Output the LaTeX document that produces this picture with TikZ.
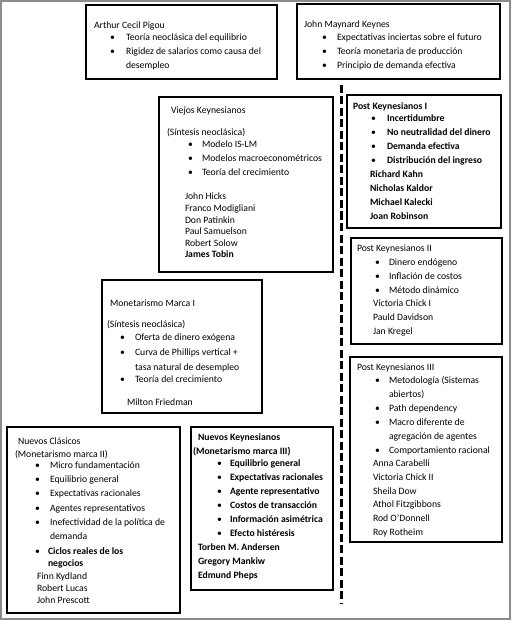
\documentclass[tikz,border=0pt]{standalone}
\usepackage{fontspec}
\setmainfont{Carlito}
\usetikzlibrary{fit}
\newcounter{lnc}
\newcommand\tline[3]{\stepcounter{lnc}\node[txt] (t\thelnc) at (#1,#2+3) {#3};}
\newcommand\bline[4]{\stepcounter{lnc}\node[txt] (d\thelnc) at (#1,#3+3) {\textbullet};\node[txt] (t\thelnc) at (#2,#3+3) {#4};}
\begin{document}
\begin{tikzpicture}[x=1pt,y=-1pt,
  txt/.style={anchor=base west,inner sep=0pt,outer sep=0pt,font=\fontsize{9.7}{11.6}\selectfont},
  box/.style={draw=black,line width=1.7pt,inner sep=0pt,outer sep=0pt},
  frame/.style={draw=black!45,line width=2pt},
  dashline/.style={line width=3pt,dash pattern=on 8pt off 3.5pt}]
\useasboundingbox (0,0) rectangle (511,620);
\fill[white] (0,0) rectangle (511,620);
\draw[frame] (1,1) rectangle (509.5,618.5);
% boxes
\node[box,fit={(86,5) (277,79)}] (pigou) {};
\node[box,fit={(297,4) (500,79)}] (keynes) {};
\node[box,fit={(159,97) (333,272)}] (viejos) {};
\node[box,fit={(347,95) (501,228)}] (pk1) {};
\node[box,fit={(351,238) (502,344)}] (pk2) {};
\node[box,fit={(102,280) (262,413)}] (mon) {};
\node[box,fit={(350,357) (502,542)}] (pk3) {};
\node[box,fit={(7,427) (180,613)}] (nc) {};
\node[box,fit={(191,427) (333,590)}] (nk) {};
% dashed divider
\coordinate (dtop) at (341,85);
\coordinate (dbot) at (341,603);
\draw[dashline] (dtop) -- (dbot);
% Pigou
\tline{94}{26}{Arthur Cecil Pigou}
\bline{110}{126}{38}{Teoría neoclásica del equilibrio}
\bline{110}{126}{52}{Rigidez de salarios como causa del}
\tline{126}{66}{desempleo}
% Keynes
\tline{304}{25}{John Maynard Keynes}
\bline{322}{337}{38}{Expectativas inciertas sobre el futuro}
\bline{322}{337}{52}{Teoría monetaria de producción}
\bline{322}{337}{66}{Principio de demanda efectiva}
% Viejos Keynesianos
\tline{171}{111}{Viejos Keynesianos}
\tline{167}{133}{(Síntesis neoclásica)}
\bline{188}{202}{145}{Modelo IS-LM}
\bline{188}{202}{159}{Modelos macroeconométricos}
\bline{188}{202}{173}{Teoría del crecimiento}
\tline{185}{197}{John Hicks}
\tline{185}{208.5}{Franco Modigliani}
\tline{185}{220}{Don Patinkin}
\tline{185}{231.5}{Paul Samuelson}
\tline{185}{243}{Robert Solow}
\tline{185}{254.5}{\bfseries James Tobin}
% Post Keynesianos I
\tline{353}{107}{\bfseries Post Keynesianos I}
\bline{371}{387}{119}{\bfseries Incertidumbre}
\bline{371}{387}{133}{\bfseries No neutralidad del dinero}
\bline{371}{387}{147}{\bfseries Demanda efectiva}
\bline{371}{387}{161}{\bfseries Distribución del ingreso}
\tline{370}{175}{\bfseries Richard Kahn}
\tline{370}{189}{\bfseries Nicholas Kaldor}
\tline{370}{202}{\bfseries Michael Kalecki}
\tline{370}{216}{\bfseries Joan Robinson}
% Post Keynesianos II
\tline{357}{248}{Post Keynesianos II}
\bline{375}{389}{262}{Dinero endógeno}
\bline{375}{389}{276}{Inflación de costos}
\bline{375}{389}{290}{Método dinámico}
\tline{373}{303}{Victoria Chick I}
\tline{373}{317}{Pauld Davidson}
\tline{373}{331}{Jan Kregel}
% Post Keynesianos III
\tline{357}{367}{Post Keynesianos III}
\bline{375}{389}{380}{Metodología (Sistemas}
\tline{389}{394}{abiertos)}
\bline{375}{389}{408}{Path dependency}
\bline{375}{389}{422}{Macro diferente de}
\tline{389}{436}{agregación de agentes}
\bline{375}{389}{450}{Comportamiento racional}
\tline{373}{463}{Anna Carabelli}
\tline{373}{477}{Victoria Chick II}
\tline{373}{491}{Sheila Dow}
\tline{373}{504}{Athol Fitzgibbons}
\tline{373}{518}{Rod O’Donnell}
\tline{373}{532}{Roy Rotheim}
% Monetarismo Marca I
\tline{110}{303}{Monetarismo Marca I}
\tline{107}{324}{(Síntesis neoclásica)}
\bline{120}{135}{337}{Oferta de dinero exógena}
\bline{120}{135}{352}{Curva de Phillips vertical +}
\tline{135}{367}{tasa natural de desempleo}
\bline{120}{135}{379}{Teoría del crecimiento}
\tline{127}{402}{Milton Friedman}
% Nuevos Clasicos
\tline{18}{441}{Nuevos Clásicos}
\tline{15}{454}{(Monetarismo marca II)}
\bline{35}{50}{465}{Micro fundamentación}
\bline{35}{50}{479}{Equilibrio general}
\bline{35}{50}{493}{Expectativas racionales}
\bline{35}{50}{508}{Agentes representativos}
\bline{35}{50}{522}{Inefectividad de la política de}
\tline{50}{536}{demanda}
\bline{35}{48}{551}{\bfseries Ciclos reales de los}
\tline{48}{563}{\bfseries negocios}
\tline{37}{576}{Finn Kydland}
\tline{37}{588}{Robert Lucas}
\tline{37}{600}{John Prescott}
% Nuevos Keynesianos
\tline{198}{437}{\bfseries Nuevos Keynesianos}
\tline{193}{451}{\bfseries (Monetarismo marca III)}
\bline{217}{230}{463}{\bfseries Equilibrio general}
\bline{217}{230}{477}{\bfseries Expectativas racionales}
\bline{217}{230}{491}{\bfseries Agente representativo}
\bline{217}{230}{505}{\bfseries Costos de transacción}
\bline{217}{230}{519}{\bfseries Información asimétrica}
\bline{217}{230}{533}{\bfseries Efecto histéresis}
\tline{198}{547}{\bfseries Torben M. Andersen}
\tline{198}{561}{\bfseries Gregory Mankiw}
\tline{198}{575}{\bfseries Edmund Pheps}
\end{tikzpicture}
\end{document}
